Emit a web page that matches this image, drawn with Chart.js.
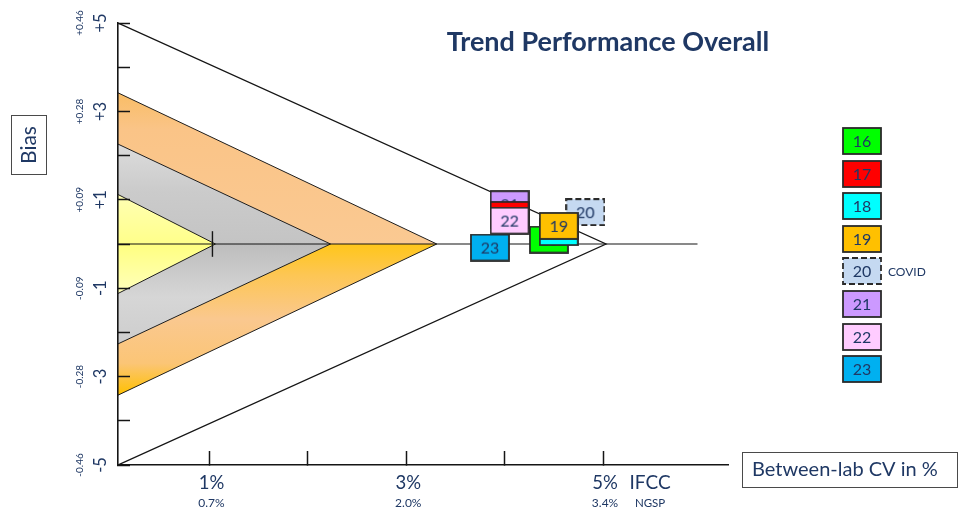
<!DOCTYPE html>
<html>
<head>
<meta charset="utf-8">
<script src="https://cdn.jsdelivr.net/npm/chart.js@4.4.0/dist/chart.umd.min.js"></script>
<style>
  html, body { margin: 0; padding: 0; background: #ffffff; }
  canvas { display: block; }
</style>
</head>
<body>
<canvas id="chart" width="959" height="511"></canvas>
<script>
// Survey years, each drawn as a labelled box
const years = ['16', '17', '18', '19', '20', '21', '22', '23'];
// Between-lab CV (IFCC, %) per year
const cvValues = [4.45, 4.05, 4.55, 4.55, 4.82, 4.05, 4.05, 3.85];
// Bias (IFCC, mmol/mol) per year
const biasValues = [0.10, 0.66, 0.27, 0.41, 0.72, 0.90, 0.53, -0.08];
const yearColors = ['#00FF00', '#FF0000', '#00FFFF', '#FFC000', '#C5D9F1', '#CC99FF', '#FFCCFF', '#00B0F0'];
const yearNotes = ['', '', '', '', 'COVID', '', '', ''];
// stacking of the boxes, 1 = top-most
const yearStack = [6, 5, 4, 3, 8, 7, 2, 1];

// Performance wedges: bias where each wedge meets the axis, CV at its tip
const zoneNames = ['limit', 'orange', 'grey', 'yellow'];
const zoneBias = [5, 3.42, 2.26, 1.12];
const zoneTipCV = [5.03, 3.31, 2.23, 1.06];

// Axis ranges and the reference marks on the zero line
const cvRange = [0.07, 6.27];
const biasRange = [-5, 5];
const baselineEndCV = 5.96;
const targetCV = 1.03;
const targetHalfHeight = 0.29;

// Tick values and labels
const cvTicks = [1, 2, 3, 4, 5];
const cvTickLabels = ['1%', '', '3%', '', '5%'];
const ngspTickLabels = ['0.7%', '', '2.0%', '', '3.4%'];
const biasTicks = [5, 4, 3, 2, 1, 0, -1, -2, -3, -4, -5];
const biasLabelValues = [5, 3, 1, -1, -3, -5];
const biasLabels = ['+5', '+3', '+1', '-1', '-3', '-5'];
const biasNgspLabels = ['+0.46', '+0.28', '+0.09', '-0.09', '-0.28', '-0.46'];

const NAVY = '#1F3864';
const FONT = 'Lato, "Open Sans", sans-serif';

// vertical colour ramps for the wedges (upper half, lower half)
const zoneFills = {
  orange: [
    [[3.42, '#F9BD66'], [2.6, '#FAC487'], [0, '#FAC992']],
    [[0, '#FFC61A'], [-0.7, '#FDC654'], [-1.7, '#FAC88F'], [-2.7, '#FBC576'], [-3.42, '#FFC000']]
  ],
  grey: [
    [[2.26, '#DCDCDC'], [1.2, '#CBCBCB'], [0, '#C4C4C4']],
    [[0, '#BDBDBD'], [-1.2, '#D6D6D6'], [-2.26, '#CDCDCD']]
  ],
  yellow: [
    [[1.12, '#FFFFB4'], [0, '#FFFF8A']],
    [[0, '#FFFF80'], [-1.12, '#FFFFBC']]
  ]
};

function verticalRamp(chart, stops) {
  const { ctx, chartArea, scales } = chart;
  if (!chartArea || !scales.y) return stops[0][1];
  const y = scales.y;
  const top = y.getPixelForValue(biasRange[1]);
  const bottom = y.getPixelForValue(biasRange[0]);
  const g = ctx.createLinearGradient(0, top, 0, bottom);
  stops.forEach(([v, c]) => {
    const t = (y.getPixelForValue(v) - top) / (bottom - top);
    g.addColorStop(Math.min(1, Math.max(0, t)), c);
  });
  return g;
}

// labelled box used as point style and in the key
function makeYearBox(i) {
  const c = document.createElement('canvas');
  c.width = 40;
  c.height = 28;
  const g = c.getContext('2d');
  g.fillStyle = yearColors[i];
  g.fillRect(1, 1, 38, 26);
  g.strokeStyle = '#2a2a2a';
  g.lineWidth = 1.8;
  if (yearNotes[i]) g.setLineDash([6, 3]);
  g.strokeRect(1, 1, 38, 26);
  g.setLineDash([]);
  g.fillStyle = NAVY;
  g.font = '16px ' + FONT;
  g.textAlign = 'center';
  g.textBaseline = 'middle';
  g.fillText(years[i], 20, 15);
  return c;
}
const yearBoxes = years.map((_, i) => makeYearBox(i));

const datasets = [];
zoneNames.forEach((name, i) => {
  if (i === 0) {
    datasets.push({
      label: name,
      data: [
        { x: cvRange[0], y: zoneBias[i] },
        { x: zoneTipCV[i], y: 0 },
        { x: cvRange[0], y: -zoneBias[i] }
      ],
      fill: false,
      borderColor: '#151515',
      borderWidth: 1.3,
      pointRadius: 0,
      order: 50
    });
  } else {
    [1, -1].forEach((sign, half) => {
      datasets.push({
        label: name + (sign > 0 ? ' +' : ' -'),
        data: [
          { x: cvRange[0], y: sign * zoneBias[i] },
          { x: zoneTipCV[i], y: 0 }
        ],
        fill: 'origin',
        backgroundColor: (c) => verticalRamp(c.chart, zoneFills[name][half]),
        borderColor: '#1e1e1e',
        borderWidth: 1,
        pointRadius: 0,
        order: 100 - i * 10
      });
    });
  }
});

datasets.push({
  label: 'zero',
  data: [{ x: cvRange[0], y: 0 }, { x: baselineEndCV, y: 0 }],
  fill: false,
  borderColor: '#151515',
  borderWidth: 1.2,
  pointRadius: 0,
  order: 40
});
datasets.push({
  label: 'target',
  data: [{ x: targetCV, y: -targetHalfHeight }, { x: targetCV, y: targetHalfHeight }],
  fill: false,
  borderColor: '#151515',
  borderWidth: 1.4,
  pointRadius: 0,
  order: 39
});

years.forEach((yr, i) => {
  datasets.push({
    label: yr,
    data: [{ x: cvValues[i], y: biasValues[i] }],
    showLine: false,
    pointStyle: yearBoxes[i],
    pointRadius: 5,
    order: yearStack[i]
  });
});

function drawRotated(ctx, text, cx, cy, font) {
  ctx.save();
  ctx.translate(cx, cy);
  ctx.rotate(-Math.PI / 2);
  ctx.font = font;
  ctx.textAlign = 'center';
  ctx.textBaseline = 'middle';
  ctx.fillText(text, 0, 0);
  ctx.restore();
}

const decorations = {
  id: 'decorations',
  afterDraw(chart) {
    const { ctx, scales } = chart;
    const x = scales.x, y = scales.y;
    ctx.save();
    ctx.fillStyle = NAVY;

    // bias labels, IFCC and NGSP units
    biasLabelValues.forEach((v, i) => {
      const py = y.getPixelForValue(v);
      drawRotated(ctx, biasLabels[i], y.right - 17, py, '16.5px ' + FONT);
      drawRotated(ctx, biasNgspLabels[i], y.right - 38, py, '10px ' + FONT);
    });

    // CV labels, IFCC and NGSP units
    ctx.textAlign = 'center';
    ctx.textBaseline = 'middle';
    cvTicks.forEach((v, i) => {
      const px = x.getPixelForValue(v) + 2;
      if (cvTickLabels[i]) {
        ctx.font = '18.5px ' + FONT;
        ctx.fillText(cvTickLabels[i], px, x.top + 18);
      }
      if (ngspTickLabels[i]) {
        ctx.font = '12px ' + FONT;
        ctx.fillText(ngspTickLabels[i], px, x.top + 38);
      }
    });
    const unitX = x.getPixelForValue(cvTicks[cvTicks.length - 1]) + 47;
    ctx.font = '19px ' + FONT;
    ctx.fillText('IFCC', unitX, x.top + 18);
    ctx.font = '11.5px ' + FONT;
    ctx.fillText('NGSP', unitX, x.top + 38);

    // title
    ctx.font = 'bold 27px ' + FONT;
    ctx.fillText('Trend Performance Overall', 608, 42);

    // axis name boxes
    ctx.strokeStyle = '#4a4a4a';
    ctx.lineWidth = 1;
    ctx.strokeRect(11.5, 115.5, 35, 59);
    drawRotated(ctx, 'Bias', 29, 145, '21px ' + FONT);

    ctx.strokeRect(742.5, 452.5, 215, 35);
    ctx.textAlign = 'left';
    ctx.font = '20px ' + FONT;
    ctx.fillText('Between-lab CV in %', 752, 470);

    // key of years
    years.forEach((yr, i) => {
      const top = 127 + i * 32.6;
      ctx.drawImage(yearBoxes[i], 842, Math.round(top));
      if (yearNotes[i]) {
        ctx.font = '12px ' + FONT;
        ctx.textAlign = 'left';
        ctx.fillText(yearNotes[i], 888, Math.round(top) + 15);
      }
    });
    ctx.restore();
  }
};

new Chart(document.getElementById('chart'), {
  type: 'line',
  data: { datasets },
  plugins: [decorations],
  options: {
    responsive: false,
    animation: false,
    events: [],
    layout: { padding: { left: 0, top: 23, right: 231, bottom: 0 } },
    plugins: {
      legend: { display: false },
      tooltip: { enabled: false }
    },
    scales: {
      x: {
        type: 'linear',
        min: cvRange[0],
        max: cvRange[1],
        afterFit: (s) => { s.height = 46; },
        afterBuildTicks: (s) => { s.ticks = cvTicks.map((v) => ({ value: v })); },
        ticks: { display: false },
        grid: { drawOnChartArea: false, drawTicks: true, tickLength: -14, tickColor: '#151515', tickWidth: 1.5, z: 1 },
        border: { display: true, color: '#151515', width: 1.6, z: 1 }
      },
      y: {
        type: 'linear',
        min: biasRange[0],
        max: biasRange[1],
        afterFit: (s) => { s.width = 118; },
        afterBuildTicks: (s) => { s.ticks = biasTicks.map((v) => ({ value: v })); },
        ticks: { display: false },
        grid: { drawOnChartArea: false, drawTicks: true, tickLength: -12, tickColor: '#151515', tickWidth: 1.5, z: 1 },
        border: { display: true, color: '#151515', width: 1.6, z: 1 }
      }
    }
  }
});
</script>
</body>
</html>
